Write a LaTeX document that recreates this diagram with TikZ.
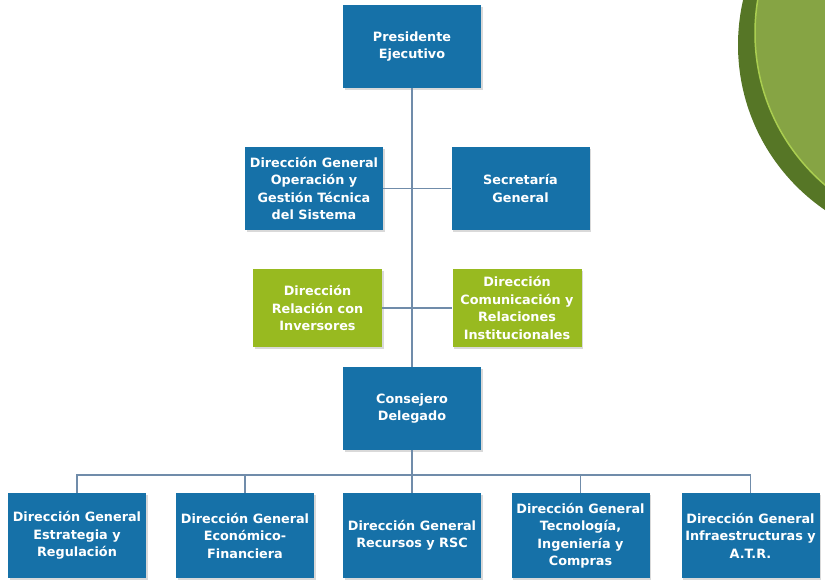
\documentclass[tikz,border=0pt]{standalone}
\usepackage{fontspec}
\setmainfont{DejaVu Sans}
\usepackage{xcolor}
\usepackage{tikz}
\usetikzlibrary{positioning, calc, shadows}

\definecolor{boxblue}{RGB}{22,113,168}
\definecolor{boxgreen}{RGB}{152,186,32}
\definecolor{linegray}{RGB}{112,140,170}
\definecolor{discdark}{RGB}{86,118,38}
\definecolor{disclight}{RGB}{134,164,68}
\definecolor{discedge}{RGB}{170,206,80}

\begin{document}
\begin{tikzpicture}[
        x=1pt, y=-1pt,
        unit/.style={rectangle, text=white, font=\bfseries\fontsize{12.8}{17.5}\selectfont, align=center,
                     inner sep=1pt, drop shadow={opacity=0.3, shadow xshift=1.5pt, shadow yshift=-1.5pt}},
        bluebox/.style={unit, fill=boxblue, minimum width=138pt, minimum height=83pt},
        greenbox/.style={unit, fill=boxgreen, minimum width=129pt, minimum height=78pt},
        link/.style={draw=linegray, line width=1.3pt}
    ]
    \useasboundingbox (0,0) rectangle (825,587);

    % ==========================================
    % 1. DECORATIVE DISC (top right)
    % ==========================================
    \begin{scope}
        \clip (0,0) rectangle (825,587);
        \fill[discdark] (938,45) circle (200);
        \fill[disclight, draw=discedge, line width=1.5pt] (955,33) circle (200);
    \end{scope}

    % ==========================================
    % 2. UNITS
    % ==========================================
    \node[bluebox] (pres) at (412, 46.5) {Presidente\\Ejecutivo};

    \node[bluebox] (dgop) at (314, 188.5) {Dirección General\\Operación y\\Gestión Técnica\\del Sistema};
    \node[bluebox] (secr) at (520.5, 188.5) {Secretaría\\General};

    \node[greenbox] (inv) at (317.5, 308) {Dirección\\Relación con\\Inversores};
    \node[greenbox] (com) at (517, 308) {Dirección\\Comunicación y\\Relaciones\\Institucionales};

    \node[bluebox] (cons) at (412, 408.5) {Consejero\\Delegado};

    % Bottom row
    \node[bluebox, minimum height=85pt] (estr) at (77, 535.5) {Dirección General\\Estrategia y\\Regulación};
    \node[bluebox, minimum height=85pt] (econ) at (245, 535.5) {Dirección General\\Económico-\\Financiera};
    \node[bluebox, minimum height=85pt] (recu) at (412, 535.5) {Dirección General\\Recursos y RSC};
    \node[bluebox, minimum height=85pt] (tecn) at (580.5, 535.5) {Dirección General\\Tecnología,\\Ingeniería y\\Compras};
    \node[bluebox, minimum height=85pt] (infr) at (750.5, 535.5) {Dirección General\\Infraestructuras y\\A.T.R.};

    % ==========================================
    % 3. CONNECTIONS
    % ==========================================
    \coordinate (bus) at (412, 475);

    \draw[link] (pres) -- (cons);
    \draw[link] (dgop) -- (secr);
    \draw[link] (inv) -- (com);
    \draw[link] (cons) -- (bus);
    \draw[link] (estr.north) |- (bus) -| (infr.north);
    \foreach \b in {econ, recu, tecn}
        \draw[link] (\b.north) -- (\b.north |- bus);

\end{tikzpicture}
\end{document}
